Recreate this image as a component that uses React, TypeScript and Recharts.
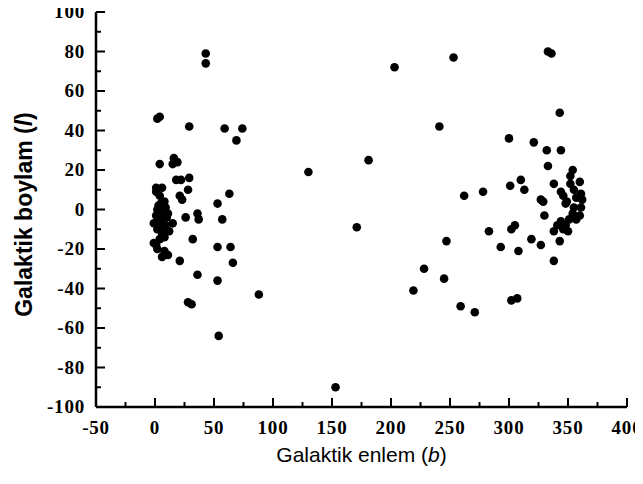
import React from 'react';
import { ScatterChart, Scatter, XAxis, YAxis, Label } from 'recharts';

// Galactic latitude (b) of each object
const latitudeB: number[] = [
  // low-b group
  2, 4, 43, 43, 29, 59, 74, 69,
  4, 16, 19, 15, 18, 22, 29, 28, 21, 23, 63, 53,
  26, 36, 37, 57, 32, 53, 64, 21, 66, 36, 53, 28, 31, 88, 54,
  153, 130, 181, 171, 203,
  1, 6, 1, 4, 8, 5, 9, 2, 6, 11, 1, 5, 15, -1, 9, 2, 12, 6, 8, 4, -1, 1, 2, 8, 6, 11, 10, 3, 7, 3, 4,
  // high-b group
  253, 333, 336, 343, 241, 300, 321, 332, 344, 333, 354, 352, 360, 352, 310, 301, 313, 338, 262, 278,
  344, 346, 355, 361, 327, 329, 349, 357, 362, 348, 355, 361, 354, 360, 330, 351, 357, 344, 348, 341,
  346, 350, 338, 283, 302, 305, 319, 327, 293, 308, 247, 343, 338, 228, 219, 245, 259, 271, 302, 307,
];

// Galactic longitude (l) of each object, same order
const longitudeL: number[] = [
  46, 47, 79, 74, 42, 41, 41, 35,
  23, 26, 24, 23, 15, 15, 16, 10, 7, 5, 8, 3,
  -4, -2, -5, -5, -15, -19, -19, -26, -27, -33, -36, -47, -48, -43, -64,
  -90, 19, 25, -9, 72,
  11, 11, 9, 7, 4, 3, 1, 0, -2, -2, -3, -5, -7, -7, -8, -10, -11, -12, -14, -15, -17, -18, -20, -21, -24, -23, -4, -6, -9, 2, -1,
  77, 80, 79, 49, 42, 36, 34, 30, 30, 22, 20, 17, 14, 13, 15, 12, 10, 13, 7, 9,
  9, 7, 10, 8, 5, 4, 4, 6, 5, 3, 1, 1, -2, -3, -3, -5, -5, -6, -8, -8,
  -10, -11, -11, -11, -10, -8, -15, -18, -19, -21, -16, -16, -26, -30, -41, -35, -49, -52, -46, -45,
];

const xTicks: number[] = [-50, -25, 0, 25, 50, 75, 100, 125, 150, 175, 200, 225, 250, 275, 300, 325, 350, 375, 400];
const yTicks: number[] = [-100, -90, -80, -70, -60, -50, -40, -30, -20, -10, 0, 10, 20, 30, 40, 50, 60, 70, 80, 90, 100];

const data = latitudeB.map((b, i) => ({ b, l: longitudeL[i] }));

const serif = "'Liberation Serif', 'Times New Roman', serif";
const sans = "'Liberation Sans', Arial, sans-serif";

const MAJOR = 9;
const MINOR = 5;

const BottomTick = (props: any) => {
  const { x, y, payload } = props;
  const v = payload.value as number;
  const major = v % 50 === 0;
  return (
    <g>
      <line x1={x} x2={x} y1={y} y2={y - (major ? MAJOR : MINOR)} stroke="#000" strokeWidth={2} />
      {major && (
        <text x={x} y={y + 27} textAnchor="middle" fontFamily={serif} fontWeight="bold" fontSize={19} letterSpacing={0.8} fill="#000">
          {v}
        </text>
      )}
    </g>
  );
};

const LeftTick = (props: any) => {
  const { x, y, payload } = props;
  const v = payload.value as number;
  const major = v % 20 === 0;
  return (
    <g>
      <line x1={x} x2={x + (major ? MAJOR : MINOR)} y1={y} y2={y} stroke="#000" strokeWidth={2} />
      {major && (
        <text x={x - 11} y={y + 6} textAnchor="end" fontFamily={serif} fontWeight="bold" fontSize={19} letterSpacing={0.8} fill="#000">
          {v}
        </text>
      )}
    </g>
  );
};

const TopTick = (props: any) => {
  const { x, y, payload } = props;
  const major = (payload.value as number) % 50 === 0;
  return <line x1={x} x2={x} y1={y} y2={y + (major ? MAJOR : MINOR)} stroke="#000" strokeWidth={2} />;
};

const RightTick = (props: any) => {
  const { x, y, payload } = props;
  const major = (payload.value as number) % 20 === 0;
  return <line x1={x} x2={x - (major ? MAJOR : MINOR)} y1={y} y2={y} stroke="#000" strokeWidth={2} />;
};

const Dot = (props: any) => <circle cx={props.cx} cy={props.cy} r={4.3} fill="#000" />;
const Nothing = () => <g />;

const axisLine = { stroke: '#000', strokeWidth: 2.5 };

export default function App() {
  return (
    <div style={{ margin: '-8px 0 0 -8px', width: 643, height: 484 }}>
      <ScatterChart width={643} height={484} margin={{ top: 12, right: 16, bottom: 37, left: 16 }}>
        <XAxis
          xAxisId="bottom"
          dataKey="b"
          type="number"
          domain={[-50, 400]}
          ticks={xTicks}
          interval={0}
          tickSize={0}
          tickMargin={0}
          tickLine={false}
          axisLine={axisLine}
          tick={<BottomTick />}
          height={40}
        >
          <Label
            content={(p: any) => {
              const vb = p.viewBox;
              return (
                <text x={vb.x + vb.width / 2} y={462} textAnchor="middle" fontFamily={sans} fontSize={21} fill="#000">
                  Galaktik enlem (<tspan fontStyle="italic">b</tspan>)
                </text>
              );
            }}
          />
        </XAxis>
        <XAxis
          xAxisId="top"
          orientation="top"
          dataKey="b"
          type="number"
          domain={[-50, 400]}
          ticks={xTicks}
          interval={0}
          tickSize={0}
          tickMargin={0}
          tickLine={false}
          axisLine={axisLine}
          tick={<TopTick />}
          height={0}
        />
        <YAxis
          yAxisId="left"
          dataKey="l"
          type="number"
          domain={[-100, 100]}
          ticks={yTicks}
          interval={0}
          tickSize={0}
          tickMargin={0}
          tickLine={false}
          axisLine={axisLine}
          tick={<LeftTick />}
          width={80}
        >
          <Label
            content={(p: any) => {
              const vb = p.viewBox;
              const cx = 32;
              const cy = vb.y + vb.height / 2 + 5;
              return (
                <text
                  x={cx}
                  y={cy}
                  transform={`rotate(-90, ${cx}, ${cy})`}
                  textAnchor="middle"
                  fontFamily={sans}
                  fontWeight="bold"
                  fontSize={23}
                  fill="#000"
                >
                  Galaktik boylam (<tspan fontStyle="italic">l</tspan>)
                </text>
              );
            }}
          />
        </YAxis>
        <YAxis
          yAxisId="right"
          orientation="right"
          dataKey="l"
          type="number"
          domain={[-100, 100]}
          ticks={yTicks}
          interval={0}
          tickSize={0}
          tickMargin={0}
          tickLine={false}
          axisLine={axisLine}
          tick={<RightTick />}
          width={0}
        />
        <Scatter data={data} xAxisId="top" yAxisId="right" shape={<Nothing />} isAnimationActive={false} />
        <Scatter data={data} xAxisId="bottom" yAxisId="left" shape={<Dot />} fill="#000" isAnimationActive={false} />
      </ScatterChart>
    </div>
  );
}
